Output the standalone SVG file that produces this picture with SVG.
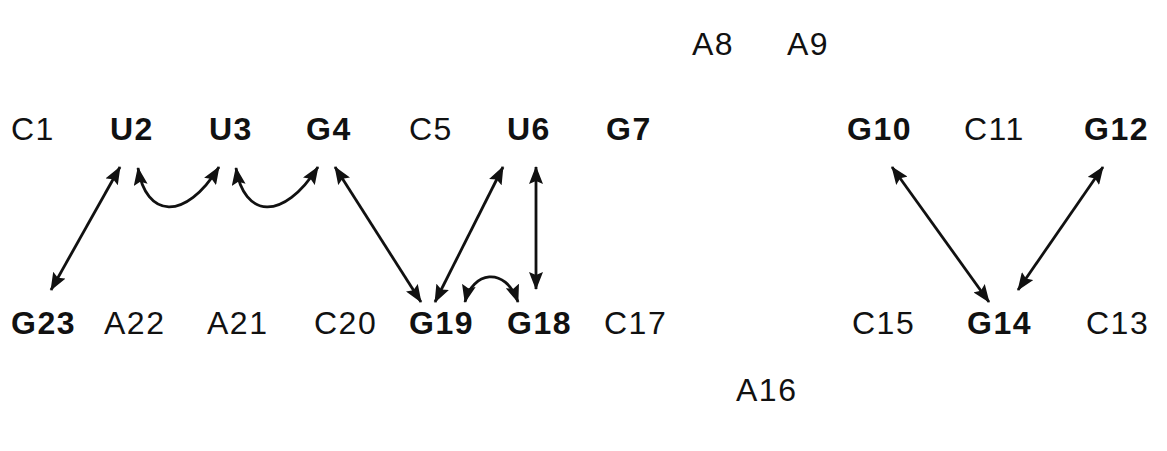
<svg xmlns="http://www.w3.org/2000/svg" width="1167" height="451" viewBox="0 0 1167 451">
<style>
text{font-family:"Liberation Sans",Arial,sans-serif;font-size:32px;fill:#111;letter-spacing:1.5px}
.b{font-weight:bold}
.c{fill:none;stroke:#111;stroke-width:2.8;marker-start:url(#ah);marker-end:url(#ah)}
</style>
<defs>
<marker id="ah" viewBox="0 0 18 14" refX="17" refY="7" markerWidth="18" markerHeight="14" markerUnits="userSpaceOnUse" orient="auto-start-reverse">
<path d="M0,0 L18,7 L0,14 L3,7 z" fill="#111"/>
</marker>
</defs>
<rect width="1167" height="451" fill="#fff"/>
<g id="C1"><text x="11" y="140">C1</text></g>
<g id="U2"><text class="b" x="110" y="140">U2</text></g>
<g id="U3"><text class="b" x="209" y="140">U3</text></g>
<g id="G4"><text class="b" x="306" y="140">G4</text></g>
<g id="C5"><text x="409" y="140">C5</text></g>
<g id="U6"><text class="b" x="507" y="140">U6</text></g>
<g id="G7"><text class="b" x="606" y="140">G7</text></g>
<g id="A8"><text x="692" y="55">A8</text></g>
<g id="A9"><text x="787" y="55">A9</text></g>
<g id="G10"><text class="b" x="847" y="140">G10</text></g>
<g id="C11"><text x="964" y="140">C11</text></g>
<g id="G12"><text class="b" x="1084" y="140">G12</text></g>
<g id="C13"><text x="1086" y="334">C13</text></g>
<g id="G14"><text class="b" x="967" y="334">G14</text></g>
<g id="C15"><text x="852" y="334">C15</text></g>
<g id="A16"><text x="736" y="401">A16</text></g>
<g id="C17"><text x="604" y="334">C17</text></g>
<g id="G18"><text class="b" x="507" y="334">G18</text></g>
<g id="G19"><text class="b" x="409" y="334">G19</text></g>
<g id="C20"><text x="314" y="334">C20</text></g>
<g id="A21"><text x="207" y="334">A21</text></g>
<g id="A22"><text x="104" y="334">A22</text></g>
<g id="G23"><text class="b" x="11" y="334">G23</text></g>
<g id="connectors">
<path class="c" d="M120,167 L51,290"/>
<path class="c" d="M138,168 C146,218 185,222 219,167"/>
<path class="c" d="M236,168 C244,218 283,222 318,167"/>
<path class="c" d="M335,167 L421,302"/>
<path class="c" d="M503,167 L435,302"/>
<path class="c" d="M536,167 L536,289"/>
<path class="c" d="M465,302 C472,272 505,265 518,302"/>
<path class="c" d="M892,167 L989,302"/>
<path class="c" d="M1103,167 L1018,290"/>
</g>
</svg>
